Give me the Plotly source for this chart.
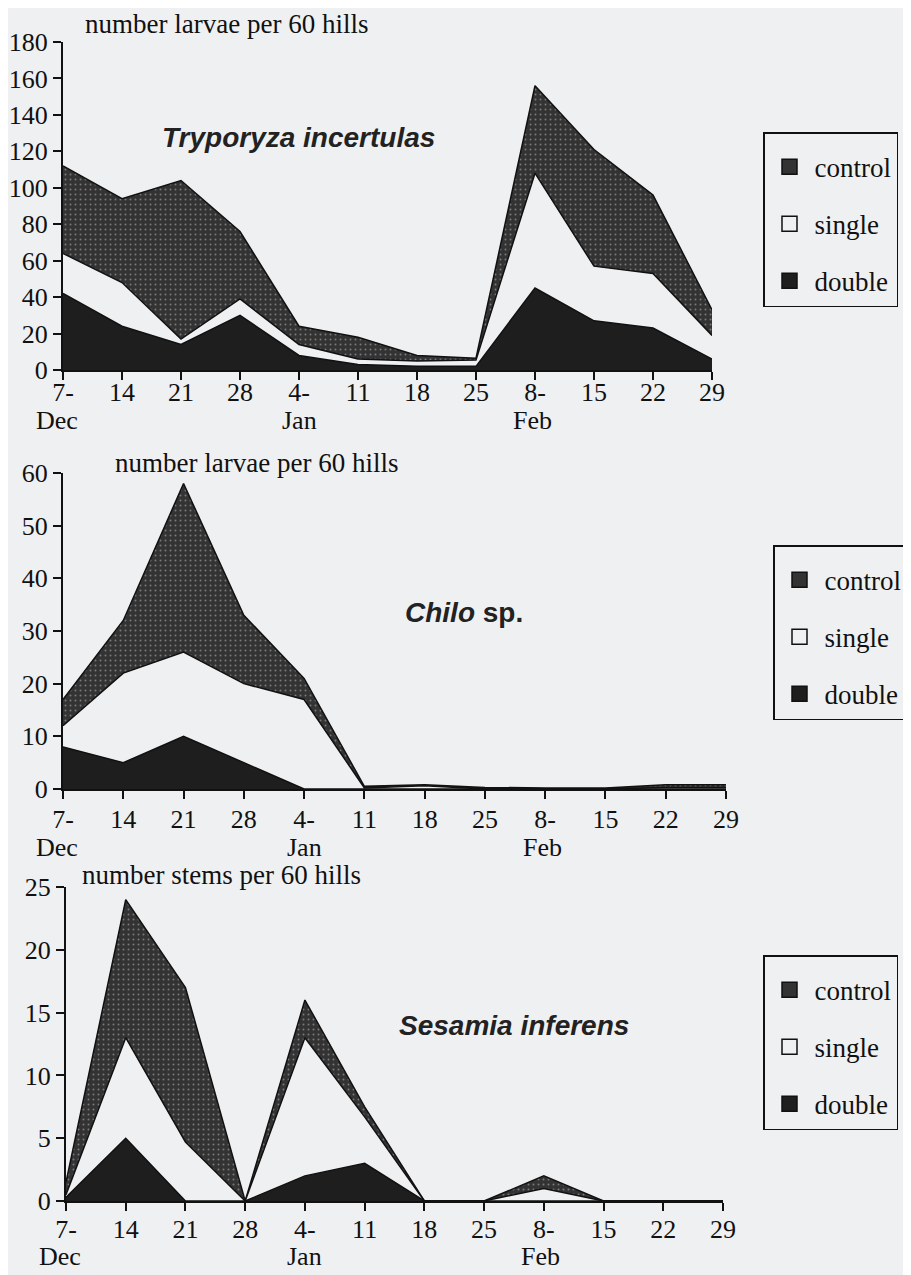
import plotly.graph_objects as go

# ---------------- data ----------------
weeks = ["7-", "14", "21", "28", "4-", "11", "18", "25", "8-", "15", "22", "29"]
months = ["Dec", "Jan", "Feb"]
month_at = ["7-", "4-", "8-"]   # week category under which each month name sits

# Tryporyza incertulas (number larvae per 60 hills)
tryp_control = [112, 94, 104, 76, 24, 18, 8, 6.5, 156, 121, 96, 33]
tryp_single = [64, 48, 17, 39, 14, 6, 5, 5.5, 108, 57, 53, 19]
tryp_double = [42, 24, 14, 30, 8, 3, 2, 2, 45, 27, 23, 6]

# Chilo sp. (number larvae per 60 hills)
chilo_control = [17, 32, 58, 33, 21, 0.5, 0.8, 0.3, 0.2, 0.2, 0.8, 0.8]
chilo_single = [12, 22, 26, 20, 17, 0.2, 0.6, 0, 0, 0, 0.3, 0.3]
chilo_double = [8, 5, 10, 5, 0, 0, 0, 0, 0, 0, 0, 0]

# Sesamia inferens (number stems per 60 hills)
ses_control = [1.5, 24, 17, 0, 16, 7.5, 0, 0, 2, 0, 0, 0]
ses_single = [0.5, 13, 4.7, 0, 13, 6.7, 0, 0, 1, 0, 0, 0]
ses_double = [0.3, 5, 0, 0, 2, 3, 0, 0, 0, 0, 0, 0]

series_names = ["control", "single", "double"]

# ---------------- styling ----------------
BG = "#eff0f2"
CONTROL = "#333333"
DOUBLE = "#1e1e1e"
INK = "#111111"
SERIF = "Liberation Serif"
SANS = "Liberation Sans"

# the page body has an 8px margin; figure fills the rest of the window
OFF = 8
W = 911 - OFF
H = 1275 - OFF


def px(x):
    return (x - OFF) / W


def py(y):
    return 1 - (y - OFF) / H


fig = go.Figure()

panels = [
    dict(ctrl=tryp_control, sing=tryp_single, dbl=tryp_double,
         xa="x", ya="y", legend="legend"),
    dict(ctrl=chilo_control, sing=chilo_single, dbl=chilo_double,
         xa="x2", ya="y2", legend="legend2"),
    dict(ctrl=ses_control, sing=ses_single, dbl=ses_double,
         xa="x3", ya="y3", legend="legend3"),
]

for p in panels:
    fig.add_trace(go.Scatter(
        x=weeks, y=p["ctrl"], mode="lines", fill="tozeroy",
        fillcolor=CONTROL,
        fillpattern=dict(shape=".", bgcolor=CONTROL, fgcolor="#7a7a7a",
                         size=5, solidity=0.12),
        line=dict(color=INK, width=1.5),
        xaxis=p["xa"], yaxis=p["ya"], showlegend=False, hoverinfo="skip"))
    fig.add_trace(go.Scatter(
        x=weeks, y=p["sing"], mode="lines", fill="tozeroy",
        fillcolor=BG, line=dict(color=INK, width=1.5),
        xaxis=p["xa"], yaxis=p["ya"], showlegend=False, hoverinfo="skip"))
    fig.add_trace(go.Scatter(
        x=weeks, y=p["dbl"], mode="lines", fill="tozeroy",
        fillcolor=DOUBLE, line=dict(color=INK, width=1.5),
        xaxis=p["xa"], yaxis=p["ya"], showlegend=False, hoverinfo="skip"))
    # legend entries
    for name, col in zip(series_names, [CONTROL, BG, DOUBLE]):
        fig.add_trace(go.Scatter(
            x=[None], y=[None], mode="markers", name=name,
            marker=dict(symbol="square", size=15, color=col,
                        line=dict(color=INK, width=1.5)),
            xaxis=p["xa"], yaxis=p["ya"], legend=p["legend"],
            legendgroup=p["legend"] + name, showlegend=True))


def ydom(zero_px, top_px):
    return [py(zero_px), py(top_px)]


def xdom(l_px, r_px):
    return [px(l_px), px(r_px)]


axis_common = dict(
    showline=True, linecolor=INK, linewidth=2,
    ticks="outside", ticklen=8, tickwidth=2, tickcolor=INK,
    showgrid=False, zeroline=False, automargin=False,
    tickfont=dict(family=SERIF, size=26, color=INK),
)

xcommon = dict(axis_common, type="category", range=[0, 11], fixedrange=True)

fig.update_layout(
    xaxis=dict(xcommon, domain=xdom(63, 712), anchor="y",
               ticklabelstandoff=-10),
    yaxis=dict(axis_common, domain=ydom(370, 42), range=[0, 180], dtick=20,
               anchor="x"),
    xaxis2=dict(xcommon, domain=xdom(63, 726), anchor="y2",
                ticklabelstandoff=-2),
    yaxis2=dict(axis_common, domain=ydom(789, 473), range=[0, 60], dtick=10,
                anchor="x2"),
    xaxis3=dict(xcommon, domain=xdom(66, 723), anchor="y3",
                ticklabelstandoff=-4),
    yaxis3=dict(axis_common, domain=ydom(1201, 887), range=[0, 25], dtick=5,
                anchor="x3"),
)

legend_common = dict(
    bgcolor=BG, bordercolor=INK, borderwidth=1.5,
    font=dict(family=SERIF, size=27, color=INK),
    xanchor="left", yanchor="top", traceorder="grouped",
    tracegroupgap=19, itemsizing="trace", itemwidth=40,
    title=dict(text=" ", font=dict(size=7)),
)
fig.update_layout(
    legend=dict(legend_common, x=px(763), y=py(132)),
    legend2=dict(legend_common, x=px(773), y=py(545)),
    legend3=dict(legend_common, x=px(763), y=py(955)),
)

# month names below the week tick labels
month_rows = [("x", 421), ("x2", 847), ("x3", 1256)]
month_shift = [-6, 0, -3]
for xa, ypix in month_rows:
    for m, cat, sh in zip(months, month_at, month_shift):
        fig.add_annotation(xref=xa, yref="paper", x=cat, y=py(ypix),
                           text=m, showarrow=False, xanchor="center",
                           yanchor="middle", xshift=sh,
                           font=dict(family=SERIF, size=26, color=INK))

annotations = [
    dict(text="number larvae per 60 hills", x=px(83), y=py(24)),
    dict(text="number larvae per 60 hills", x=px(113), y=py(463)),
    dict(text="number stems per 60 hills", x=px(80), y=py(875)),
]
for a in annotations:
    fig.add_annotation(xref="paper", yref="paper", xanchor="left",
                       yanchor="middle", showarrow=False,
                       font=dict(family=SERIF, size=27, color=INK), **a)

species = [
    dict(text="<b><i>Tryporyza incertulas</i></b>", x=px(160), y=py(138)),
    dict(text="<b><i>Chilo</i> sp.</b>", x=px(403), y=py(612)),
    dict(text="<b><i>Sesamia inferens</i></b>", x=px(397), y=py(1025)),
]
for s in species:
    fig.add_annotation(xref="paper", yref="paper", xanchor="left",
                       yanchor="middle", showarrow=False,
                       font=dict(family=SANS, size=28, color="#222222"), **s)

fig.update_layout(
    template="none",
    width=W, height=H,
    margin=dict(l=0, r=0, t=0, b=0, autoexpand=False),
    paper_bgcolor=BG, plot_bgcolor="rgba(0,0,0,0)",
    hovermode=False,
)

fig.write_html("out.html")
